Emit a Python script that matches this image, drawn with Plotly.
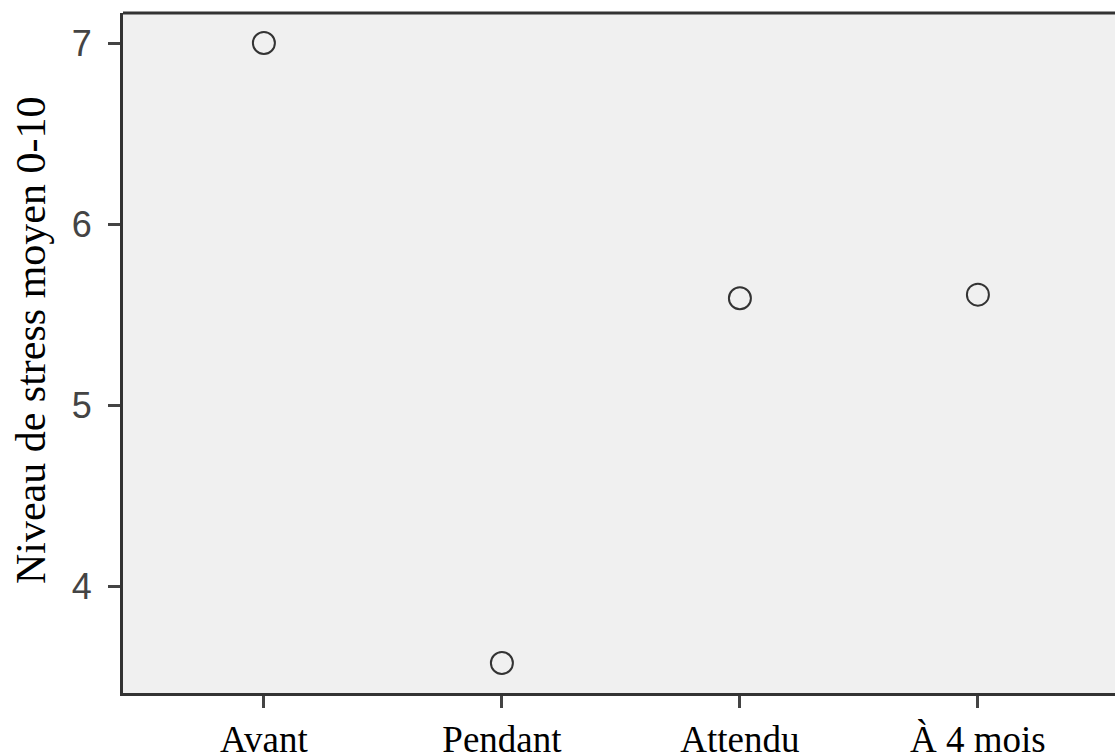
import plotly.graph_objects as go

categories = ["Avant", "Pendant", "Attendu", "À 4 mois"]
stress_means = [7.0, 3.575, 5.59, 5.61]
y_ticks = [4, 5, 6, 7]
y_title = "Niveau de stress moyen 0-10"

fig = go.Figure()
fig.add_trace(go.Scatter(
    x=categories, y=stress_means, mode="markers",
    marker=dict(symbol="circle-open", size=22, color="#333333", line=dict(width=2, color="#333333")),
    showlegend=False, cliponaxis=False,
))

fig.update_layout(
    width=1115, height=753,
    margin=dict(l=123, r=0, t=13, b=60),
    paper_bgcolor="white", plot_bgcolor="#f0f0f0",
    xaxis=dict(
        type="category", range=[-0.592, 3.576], automargin=False,
        showgrid=False, zeroline=False,
        showline=True, linecolor="#333333", linewidth=3,
        ticks="outside", ticklen=12, tickwidth=3, tickcolor="#444444",
        ticklabelstandoff=0,
        tickfont=dict(family="Liberation Serif", size=37, color="black"),
    ),
    yaxis=dict(
        range=[3.409, 7.166], tickvals=y_ticks, automargin=False,
        showgrid=False, zeroline=False,
        showline=True, linecolor="#333333", linewidth=3,
        ticks="outside", ticklen=12, tickwidth=3, tickcolor="#444444",
        ticklabelstandoff=9,
        tickfont=dict(family="Liberation Sans", size=36, color="#444444"),
    ),
    annotations=[dict(
        text=y_title, textangle=-90, showarrow=False,
        xref="paper", yref="paper", x=-0.0927, y=0.519,
        xanchor="center", yanchor="middle",
        font=dict(family="Liberation Serif", size=42, color="black"),
    )],
    shapes=[dict(type="line", xref="paper", yref="paper", x0=0, x1=1, y0=1, y1=1,
                 line=dict(color="#333333", width=3))],
)

fig.write_html(
    "out.html",
    config={"displayModeBar": False},
    post_script="document.body.style.margin='0';document.body.style.overflow='hidden';",
)
